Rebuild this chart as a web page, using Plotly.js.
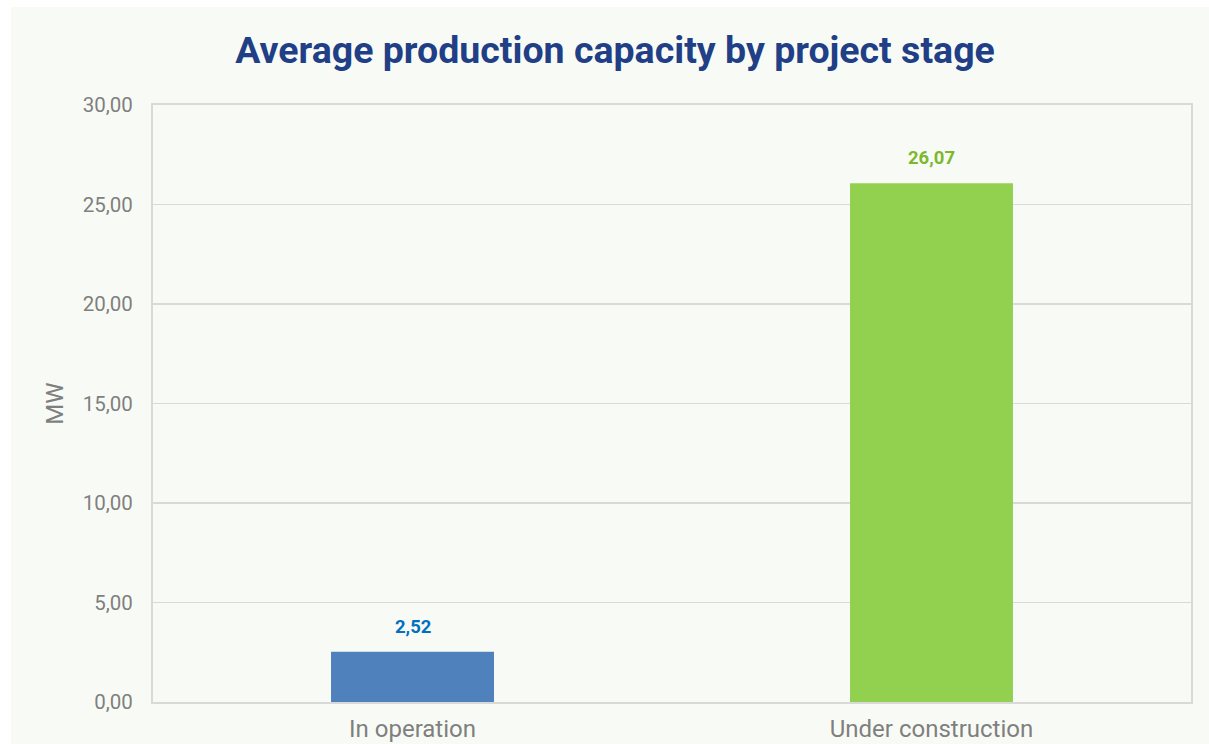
<!DOCTYPE html>
<html>
<head>
<meta charset="utf-8">
<script src="https://cdn.plot.ly/plotly-3.0.1.min.js"></script>
<style>
html,body{margin:0;padding:0;background:#ffffff;}
#chart{position:absolute;left:11px;top:7px;width:1198px;height:737px;}
</style>
</head>
<body>
<div id="chart"></div>
<script>
const categories = ["In operation", "Under construction"];
const values = [2.52, 26.07];
const barColors = ["#4f81bd", "#92d050"];
const labelColors = ["#0070c0", "#7cb82f"];
const yTicks = [0, 5, 10, 15, 20, 25, 30];

const fmt = v => v.toFixed(2).replace('.', ',');

const trace = {
  type: 'bar',
  x: categories,
  y: values,
  width: 0.314,
  marker: {color: barColors},
  hoverinfo: 'none'
};

const annotations = categories.map((c, i) => ({
  x: c, y: values[i], xref: 'x', yref: 'y',
  text: '<b>' + fmt(values[i]) + '</b>',
  showarrow: false, yanchor: 'bottom', yshift: 12,
  font: {family: 'Roboto, sans-serif', size: 18.5, color: labelColors[i]}
}));

const layout = {
  width: 1198, height: 737,
  paper_bgcolor: '#f8fbf5',
  plot_bgcolor: '#f8fbf5',
  separators: ',.',
  margin: {l: 142, r: 18, t: 98, b: 42},
  title: {
    text: '<b>Average production capacity by project stage</b>',
    font: {family: 'Roboto, sans-serif', size: 37.5, color: '#213f86'},
    x: 0.5042, xref: 'container', xanchor: 'center',
    y: 0.9417, yanchor: 'middle', yref: 'container'
  },
  xaxis: {
    type: 'category',
    showgrid: false,
    showline: true, mirror: true, linecolor: '#d9d9d9', linewidth: 2,
    ticks: 'outside', ticklen: 4, tickcolor: 'rgba(0,0,0,0)',
    tickfont: {family: 'Roboto, sans-serif', size: 24, color: '#7f7f7f'}
  },
  yaxis: {
    range: [0, 30],
    tickvals: yTicks,
    ticktext: yTicks.map(fmt),
    showgrid: true, gridcolor: '#d9d9d9', gridwidth: 1.5,
    zeroline: false,
    showline: true, mirror: true, linecolor: '#d9d9d9', linewidth: 2,
    ticks: 'outside', ticklen: 14, tickcolor: 'rgba(0,0,0,0)',
    tickfont: {family: 'Roboto, sans-serif', size: 20.5, color: '#7f7f7f'},
    title: {text: 'MW', standoff: 12, font: {family: 'Roboto, sans-serif', size: 24, color: '#7f7f7f'}}
  },
  annotations: annotations,
  showlegend: false
};

Plotly.newPlot('chart', [trace], layout, {displayModeBar: false, staticPlot: true});
</script>
</body>
</html>
